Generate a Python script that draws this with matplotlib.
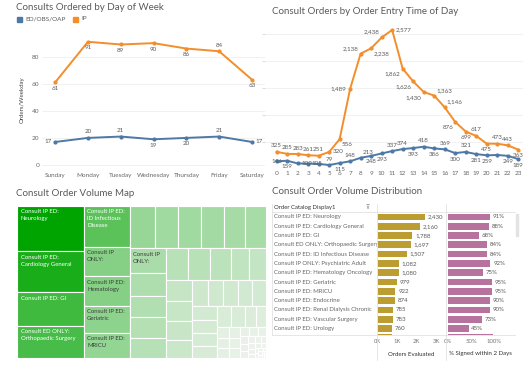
import matplotlib.pyplot as plt
from matplotlib.colors import LinearSegmentedColormap, Normalize
from matplotlib.lines import Line2D
from matplotlib.patches import Rectangle

plt.rcParams['font.family'] = ['Lato', 'DejaVu Sans']

W, H = 523, 370   # figure size in pixels

# ---- data -------------------------------------------------------------
days = ['Sunday', 'Monday', 'Tuesday', 'Wednesday', 'Thursday', 'Friday', 'Saturday']
day_ed = [17, 20, 21, 19, 20, 21, 17]
day_ip = [61, 91, 89, 90, 86, 84, 63]

hours = list(range(24))
hour_ed = [146, 159, 109, 105, 100, 79, 115, 148, 213, 248, 293, 337,
           374, 393, 418, 386, 369, 300, 321, 281, 259, 265, 249, 189]
hour_ip = [325, 285, 283, 261, 251, 320, 556, 1489, 2138, 2238, 2438, 2577,
           1862, 1626, 1430, 1363, 1146, 876, 699, 617, 475, 473, 443, 363]

order_names = ['Consult IP ED: Neurology', 'Consult IP ED: Cardiology General',
               'Consult IP ED: GI', 'Consult ED ONLY: Orthopaedic Surgery',
               'Consult IP ED: ID Infectious Disease', 'Consult IP ONLY: Psychiatric Adult',
               'Consult IP ED: Hematology Oncology', 'Consult IP ED: Geriatric',
               'Consult IP ED: MRICU', 'Consult IP ED: Endocrine',
               'Consult IP ED: Renal Dialysis Chronic', 'Consult IP ED: Vascular Surgery',
               'Consult IP ED: Urology', 'Consult IP ED: Pulmonary']
orders_eval = [2430, 2160, 1788, 1697, 1507, 1082, 1080, 979, 922, 874, 785, 783, 760, 730]
pct_signed = [0.91, 0.88, 0.68, 0.84, 0.84, 0.92, 0.75, 0.95, 0.95, 0.90, 0.90, 0.73, 0.45, 0.98]

map_volumes = [2430, 2160, 1788, 1697, 1507, 1082, 1080, 979, 922, 874, 785, 783, 760, 730,
               720, 695, 664, 618, 598, 570, 560, 550, 520, 470, 430, 426, 416, 395, 364,
               330, 315, 305, 297, 290, 285, 268, 252, 245, 235, 230, 195, 170, 111, 100, 96,
               90, 85, 80, 72, 66, 60, 55, 50, 45, 40, 36, 32, 28, 25, 22, 20, 18, 16, 14,
               12, 10, 9, 8, 7, 6, 5, 4, 3]
map_labels = ['Consult IP ED:\nNeurology', 'Consult IP ED:\nCardiology General',
              'Consult IP ED: GI', 'Consult ED ONLY:\nOrthopaedic Surgery',
              'Consult IP ED:\nID Infectious\nDisease', 'Consult IP\nONLY:',
              'Consult IP ED:\nHematology', 'Consult IP ED:\nGeriatric', 'Consult IP ED:\nMRICU',
              '', '', '', '', '', '', 'Consult IP\nONLY:']
map_strips = [4, 5, 6, 5, 5, 4, 5, 4, 4, 3]   # items per strip, as Tableau grouped them

BLUE, ORANGE = '#4e79a7', '#f28e2b'
OLIVE, PINK = '#bb9d32', '#b7739e'
TXT, LBL = '#5a5a5a', '#666666'


def box(x0, y0, x1, y1):
    '''pixel box (top-left origin) -> figure axes rect'''
    return [x0 / W, 1 - y1 / H, (x1 - x0) / W, (y1 - y0) / H]


def fig_text(fig, x, y, s, **kw):
    return fig.text(x / W, 1 - y / H, s, **kw)


def fig_line(fig, xs, ys, color='#e2e2e2', lw=0.6):
    fig.add_artist(Line2D([x / W for x in xs], [1 - y / H for y in ys],
                          transform=fig.transFigure, color=color, lw=lw))


OFFS = {'a': (0, 2.5, 'center', 'bottom'), 'b': (0, -2.5, 'center', 'top'),
        'l': (-2.5, 0, 'right', 'center'), 'r': (2.5, 0, 'left', 'center'),
        'al': (-1.5, 2, 'right', 'bottom'), 'ar': (1.5, 2, 'left', 'bottom'),
        'bl': (-1.5, -2, 'right', 'top'), 'br': (1.5, -2, 'left', 'top'),
        'c': (0, 0, 'center', 'center')}


def label_points(ax, xs, ys, places, size=4.5):
    for x, y, p in zip(xs, ys, places):
        if not p:
            continue
        dx, dy, ha, va = OFFS[p]
        ax.annotate(f'{y:,}', (x, y), xytext=(dx, dy), textcoords='offset points',
                    ha=ha, va=va, fontsize=size, color=TXT)


def worst(row, side):
    s = sum(row)
    return max(max(side * side * r / (s * s), s * s / (side * side * r)) for r in row)


def treemap_rects(values, w, h, strips):
    total = sum(values)
    areas = [v * w * h / total for v in values]
    x = y = 0.0
    rects = []
    i = k = 0
    while i < len(areas):
        side = min(w, h)
        if k < len(strips):
            n = strips[k]
            k += 1
        else:
            n = 1
            while i + n < len(areas) and worst(areas[i:i + n + 1], side) <= worst(areas[i:i + n], side):
                n += 1
        row = areas[i:i + n]
        i += n
        s = sum(row)
        if w >= h:
            cw = s / h
            yy = y
            for a in row:
                rects.append((x, yy, cw, a / cw))
                yy += a / cw
            x += cw
            w -= cw
        else:
            rh = s / w
            xx = x
            for a in row:
                rects.append((xx, y, a / rh, rh))
                xx += a / rh
            y += rh
            h -= rh
    return rects


fig = plt.figure(figsize=(W / 100, H / 100), dpi=100)

# ---- titles -------------------------------------------------------------
title_kw = dict(fontsize=7, color=TXT, va='center', ha='left')
fig_text(fig, 16, 8, 'Consults Ordered by Day of Week', **title_kw)
fig_text(fig, 272, 11, 'Consult Orders by Order Entry Time of Day', **title_kw)
fig_text(fig, 16, 193, 'Consult Order Volume Map', **title_kw)
fig_text(fig, 272, 192, 'Consult Order Volume Distribution', **title_kw)

# ---- day of week ----------------------------------------------------------
ax1 = fig.add_axes(box(42, 29.6, 268.4, 170.4))
xd = range(len(days))
ax1.plot(xd, day_ed, color=BLUE, lw=1.4, marker='o', ms=2)
ax1.plot(xd, day_ip, color=ORANGE, lw=1.4, marker='o', ms=2)
label_points(ax1, xd, day_ip, ['b', 'b', 'b', 'b', 'b', 'a', 'b'])
label_points(ax1, xd, day_ed, ['l', 'a', 'a', 'b', 'b', 'a', 'r'])
ax1.set_xlim(-0.4, 6.5)
ax1.set_ylim(-4, 100)
ax1.set_xticks(list(xd), days)
ax1.set_yticks([0, 20, 40, 60, 80])
ax1.tick_params(length=0, labelsize=4.6, labelcolor=LBL, pad=2)
ax1.grid(axis='y', color='#efefef', lw=0.6)
ax1.set_axisbelow(True)
for sp in ax1.spines.values():
    sp.set_visible(False)
fig_text(fig, 22, 100, 'Orders/Weekday', rotation=90, fontsize=4.4, color='#444',
         ha='center', va='center')
# legend
for x0, col, name in [(17, BLUE, 'ED/OBS/OAP'), (73, ORANGE, 'IP')]:
    fig.add_artist(Rectangle((x0 / W, 1 - 21.5 / H), 5 / W, 5 / H,
                             transform=fig.transFigure, color=col))
    fig_text(fig, x0 + 8, 19, name, fontsize=4.6, color=TXT, va='center')

# ---- time of day ----------------------------------------------------------
ax2 = fig.add_axes(box(265, 19, 523, 169.3))
ax2.plot(hours, hour_ed, color=BLUE, lw=1.4, marker='o', ms=2)
ax2.plot(hours, hour_ip, color=ORANGE, lw=1.4, marker='o', ms=2)
label_points(ax2, hours, hour_ip,
             ['a', 'a', 'a', 'a', 'a', 'r', 'br', 'l', 'al', 'br', 'al', 'r',
              'bl', 'bl', 'bl', 'ar', 'ar', 'bl', 'b', 'a', 'b', 'a', 'a', 'b'])
label_points(ax2, hours, hour_ed,
             ['c', 'b', 'r', 'r', '', 'a', 'b', 'a', 'ar', 'b', 'b', 'a',
              'a', 'b', 'a', 'b', 'a', 'b', 'a', 'b', 'b', '', 'b', 'b'])
ax2.set_xlim(-1.1, 23.45)
ax2.set_ylim(0, 2780)
ax2.set_xticks(hours)
ax2.set_yticks([500, 1000, 1500, 2000, 2500], [''] * 5)
ax2.tick_params(axis='x', length=0, labelsize=4.6, labelcolor=LBL, pad=1.5)
ax2.tick_params(axis='y', length=2, color='#dddddd')
ax2.grid(axis='y', color='#efefef', lw=0.6)
ax2.set_axisbelow(True)
for sp in ax2.spines.values():
    sp.set_visible(False)

# ---- treemap ----------------------------------------------------------------
ax3 = fig.add_axes(box(17.3, 205.7, 266.3, 357.7))
tw, th = 249, 152
ax3.set_xlim(0, tw)
ax3.set_ylim(th, 0)
ax3.axis('off')
greens = LinearSegmentedColormap.from_list('greens', ['#eef3ed', '#00a400'])
norm = Normalize(0, max(map_volumes))
rects = treemap_rects(map_volumes, tw, th, map_strips)
for i, ((x, y, w, h), v) in enumerate(zip(rects, map_volumes)):
    ax3.add_patch(Rectangle((x, y), w, h, facecolor=greens(norm(v)),
                            edgecolor='white', lw=0.8))
    if i < len(map_labels) and map_labels[i]:
        ax3.text(x + 3.4, y + 3.5, map_labels[i], ha='left', va='top', fontsize=4.3,
                 linespacing=1.45, color='white' if v > 1400 else '#3c3c3c')

# ---- distribution table ---------------------------------------------------------
rows = list(range(len(order_names)))
ylim = (12.73, -0.5)
ax_lab = fig.add_axes(box(272, 212.3, 377, 335.3))
ax_lab.set_xlim(0, 105)
ax_lab.set_ylim(*ylim)
ax_lab.axis('off')
for r, name in zip(rows, order_names):
    ax_lab.text(2.3, r, name, ha='left', va='center', fontsize=4.3, color=LBL, clip_on=True)

ax_b1 = fig.add_axes(box(377, 212.3, 446, 335.3))
ax_b1.barh(rows, orders_eval, height=0.72, color=OLIVE)
for r, v in zip(rows, orders_eval):
    ax_b1.annotate(f'{v:,}', (v, r), xytext=(2, 0), textcoords='offset points',
                   ha='left', va='center', fontsize=4.4, color=TXT, annotation_clip=True)
ax_b1.set_xlim(-26, 3513)
ax_b1.set_ylim(*ylim)
ax_b1.set_xticks([0, 1000, 2000, 3000], ['0K', '1K', '2K', '3K'])
ax_b1.set_yticks([])

ax_b2 = fig.add_axes(box(446, 212.3, 515, 335.3))
ax_b2.barh(rows, pct_signed, height=0.72, color=PINK)
for r, v in zip(rows, pct_signed):
    ax_b2.annotate(f'{round(v * 100)}%', (v, r), xytext=(2, 0), textcoords='offset points',
                   ha='left', va='center', fontsize=4.4, color=TXT, annotation_clip=True)
ax_b2.set_xlim(-0.037, 1.447)
ax_b2.set_ylim(*ylim)
ax_b2.set_xticks([0, 0.5, 1.0], ['0%', '50%', '100%'])
ax_b2.set_yticks([])

for ax in (ax_b1, ax_b2):
    ax.tick_params(length=0, labelsize=4.3, labelcolor='#777777', pad=3)
    for sp in ax.spines.values():
        sp.set_visible(False)

fig_text(fig, 274.3, 208, 'Order Catalog Display1', fontsize=4.3, color='#333333', va='center')
fig_text(fig, 367, 208, '⊽', fontsize=4, color='#777777', va='center', ha='center')
fig_text(fig, 411.5, 354, 'Orders Evaluated', fontsize=4.4, color='#333333', ha='center', va='center')
fig_text(fig, 480.5, 354, '% Signed within 2 Days', fontsize=4.4, color='#333333', ha='center', va='center')

fig_line(fig, [272, 515], [212.3, 212.3])
fig_line(fig, [272, 515], [335.3, 335.3])
fig_line(fig, [272, 272], [204, 335.3])
fig_line(fig, [377, 377], [204, 360])
fig_line(fig, [446, 446], [204, 360])
fig.add_artist(Rectangle((515.7 / W, 1 - 236 / H), 2.6 / W, 22 / H,
                         transform=fig.transFigure, color='#e3e3e3'))

fig.savefig('out.png', dpi=100)
